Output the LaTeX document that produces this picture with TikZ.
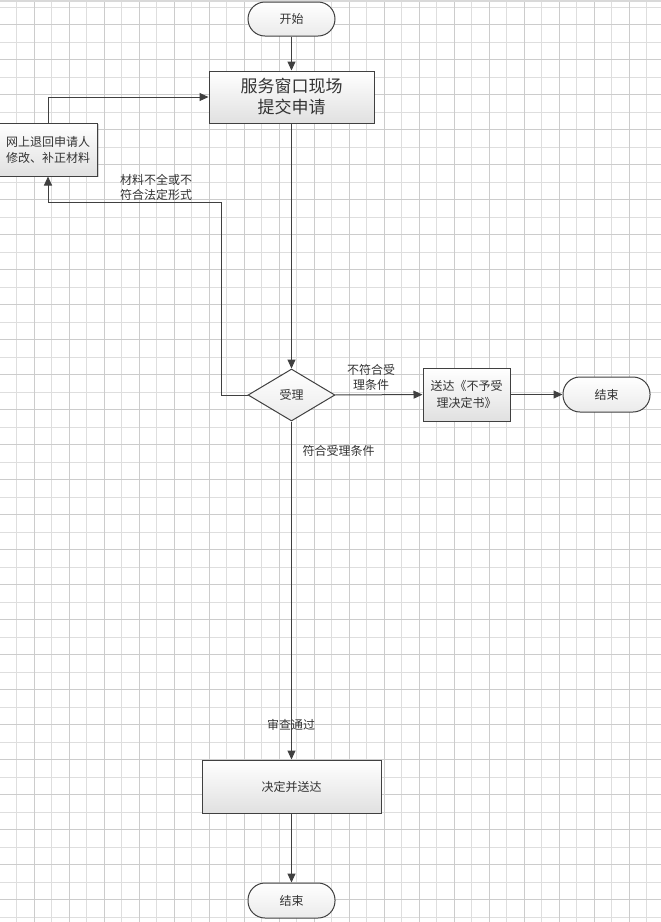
\documentclass[tikz,border=0pt]{standalone}
\usepackage{fontspec}
\newfontfamily\cjk{Noto Sans CJK SC}
\usetikzlibrary{arrows.meta,shapes.geometric,shadows}
\tikzstyle{every node}=[font=\cjk\fontsize{12}{15}\selectfont,text=black!80]
\tikzstyle{term}=[draw=black!75,line width=1pt,rounded corners=17pt,minimum width=87pt,minimum height=34pt,inner sep=0pt,top color=white,bottom color=black!8]
\tikzstyle{proc}=[draw=black!75,line width=1pt,inner sep=0pt,align=center,top color=white,bottom color=black!12,drop shadow={shadow xshift=1pt,shadow yshift=-1pt,opacity=.35}]
\tikzstyle{decide}=[diamond,draw=black!75,line width=1pt,inner sep=0pt,minimum width=87pt,minimum height=52pt,top color=white,bottom color=black!8]
\tikzstyle{flow}=[draw=black!75,line width=1pt,-{Triangle[length=9pt,width=8pt]}]
\tikzstyle{note}=[align=center,inner sep=0pt]
\tikzstyle{minorline}=[draw=black!13,line width=0.8pt]
\tikzstyle{majorline}=[draw=black!20,line width=0.8pt]

\begin{document}
\begin{tikzpicture}[x=1pt,y=-1pt]
                  \useasboundingbox (0,0) rectangle (661,922);
                  \fill [white] (0,0) rectangle (661,922);
                  % grid
                  \foreach \gx in {0,2,...,36} \draw [minorline] ({16.7+17.5*\gx},0) -- ++(0,922);
                  \foreach \gy in {0,2,...,52} \draw [minorline] (0,{7.3+17.5*\gy}) -- ++(661,0);
                  \foreach \gx in {1,3,...,35} \draw [majorline] ({16.7+17.5*\gx},0) -- ++(0,922);
                  \foreach \gy in {1,3,...,51} \draw [majorline] (0,{7.3+17.5*\gy}) -- ++(661,0);
                  \draw [black!15,line width=2pt] (0,1) -- (661,1);

                  \node (start) at (291.5,19) [term] {开始};
                  \node (submit) at (291.5,97) [proc,minimum width=165pt,minimum height=52pt,font=\cjk\fontsize{17}{21}\selectfont] {服务窗口现场\\提交申请};
                  \node (back) at (48,149.5) [proc,minimum width=99pt,minimum height=53pt,font=\cjk\fontsize{12}{16}\selectfont] {网上退回申请人\\修改、补正材料};
                  \node (accept) at (291.5,395) [decide] {受理};
                  \node (notice) at (466.5,394.5) [proc,minimum width=87pt,minimum height=53pt,font=\cjk\fontsize{12}{17}\selectfont] {送达《不予受\\理决定书》};
                  \node (end1) at (606.5,394.5) [term,minimum height=35pt] {结束};
                  \node (final) at (291.5,786.5) [proc,minimum width=179pt,minimum height=53pt] {决定并送达};
                  \node (end2) at (291.5,900.5) [term,minimum height=35pt] {结束};
                  \coordinate (turn) at (221,202);

                  \draw [flow] (start) -- (submit);
                  \draw [flow] (submit) -- (accept);
                  \draw [flow] (back.north) |- (submit.west);
                  \draw [flow] (accept.west) -| (turn) -| (back.south);
                  \draw [flow] (accept) -- (notice);
                  \draw [flow] (notice) -- (end1);
                  \draw [flow] (accept) -- (final);
                  \draw [flow] (final) -- (end2);

                  \node (lblback) at (156,187) [note] {材料不全或不\\符合法定形式};
                  \node (lblno) at (371,377.5) [note] {不符合受\\理条件};
                  \node (lblyes) at (338.5,451) [note] {符合受理条件};
                  \node (lblpass) at (291,725) [note] {审查通过};
              \end{tikzpicture}
\end{document}
